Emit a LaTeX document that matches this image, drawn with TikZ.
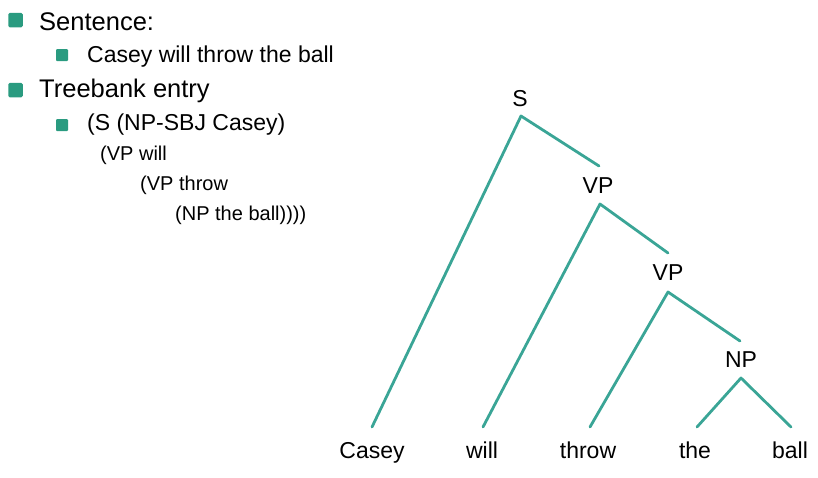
\documentclass[tikz,border=0pt]{standalone}
\usepackage{fontspec}
\setmainfont{Liberation Sans}
\definecolor{bul}{HTML}{2A9B80}
\definecolor{edge}{HTML}{3AA596}
\begin{document}
\begin{tikzpicture}[x=1pt,y=-1pt,
  bigbul/.style={fill=bul,draw=none,rounded corners=1.5pt,minimum size=14.5pt,inner sep=0pt},
  smallbul/.style={fill=bul,draw=none,rounded corners=1pt,minimum size=12pt,inner sep=0pt},
  lvlone/.style={anchor=base west,inner sep=0pt,font=\fontsize{25.5}{28}\selectfont},
  lvltwo/.style={anchor=base west,inner sep=0pt,font=\fontsize{23}{26}\selectfont},
  lvlthree/.style={anchor=base west,inner sep=0pt,font=\fontsize{20}{23}\selectfont},
  lab/.style={inner sep=0pt,font=\fontsize{23}{26}\selectfont},
  word/.style={anchor=base,inner sep=0pt,font=\fontsize{23}{26}\selectfont},
  branch/.style={draw=edge,line width=2.8pt,line cap=round,line join=round}]
\useasboundingbox (0,0) rectangle (818,477);
% left text
\node[bigbul] (b1) at (15.5,20) {};
\node[lvlone] (t1) at (39,30) {Sentence:};
\node[smallbul] (b2) at (62,55) {};
\node[lvltwo] (t2) at (87,62) {Casey will throw the ball};
\node[bigbul] (b3) at (15.5,90) {};
\node[lvlone] (t3) at (39,97) {Treebank entry};
\node[smallbul] (b4) at (62,125) {};
\node[lvltwo] (t4) at (87,130) {(S (NP-SBJ Casey)};
\node[lvlthree] (t5) at (100,160) {(VP will};
\node[lvlthree] (t6) at (140,190) {(VP throw};
\node[lvlthree] (t7) at (175,220) {(NP the ball))))};
% tree labels
\node[lab] (S) at (520,99) {S};
\node[lab] (VPa) at (598,186) {VP};
\node[lab] (VPb) at (668,273) {VP};
\node[lab] (NP) at (741,360) {NP};
\node[word] (casey) at (372,458) {Casey};
\node[word] (will) at (482,458) {will};
\node[word] (throw) at (588,458) {throw};
\node[word] (the) at (695,458) {the};
\node[word] (ball) at (790,458) {ball};
% branch points
\coordinate (sA) at (521,116);
\coordinate (sR) at (599,166);
\coordinate (vaA) at (600,204);
\coordinate (vaR) at (668,253);
\coordinate (vbA) at (668,292);
\coordinate (vbR) at (740,341);
\coordinate (npA) at (741,378);
\coordinate (cE) at (372,427);
\coordinate (wE) at (483,427);
\coordinate (tE) at (590,427);
\coordinate (thE) at (697,427);
\coordinate (bE) at (791,427);
\draw[branch] (cE) -- (sA) -- (sR);
\draw[branch] (wE) -- (vaA) -- (vaR);
\draw[branch] (tE) -- (vbA) -- (vbR);
\draw[branch] (thE) -- (npA) -- (bE);
\end{tikzpicture}
\end{document}
